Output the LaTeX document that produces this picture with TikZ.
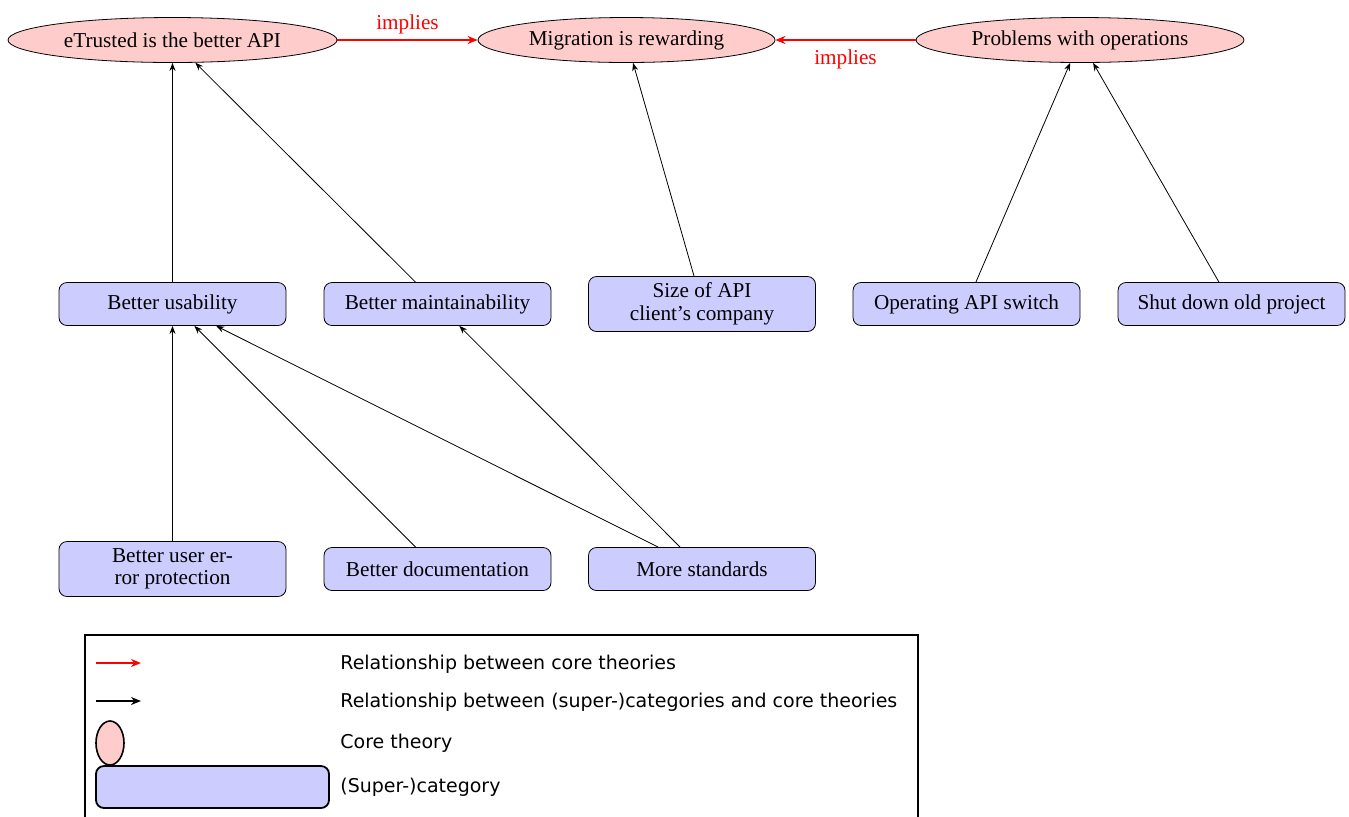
\documentclass[tikz,border=0pt]{standalone}
\usepackage{fontspec}
\setmainfont{Liberation Serif}
\newfontfamily\legendfont{DejaVu Sans}
\usetikzlibrary{shapes.geometric,arrows.meta}
\begin{document}
\begin{tikzpicture}[x=0.5pt,y=-0.5pt,
  font=\fontsize{10.6}{11.2}\selectfont,
  core/.style={ellipse,draw,fill=red!20,inner sep=0pt,minimum height=22.5pt},
  cat/.style={draw,fill=blue!20,rounded corners=4pt,minimum width=113.5pt,minimum height=21.5pt,align=center,inner sep=0pt},
  cattwo/.style={cat,minimum height=27.5pt},
  arr/.style={-{Stealth[length=4pt,width=3pt]},line width=0.4pt},
  rel/.style={-{Stealth[length=5pt,width=4pt]},red,line width=0.9pt},
  lbl/.style={text=red},
  legtext/.style={anchor=west,font=\legendfont\fontsize{9.5}{11}\selectfont,inner sep=0pt}
]
\path[use as bounding box,clip] (0,0) rectangle (1349,816);

% core theories
\node[core,minimum width=164.5pt] (E1) at (172.5,40) {eTrusted is the better API};
\node[core,minimum width=148.5pt] (E2) at (626.5,40) {Migration is rewarding};
\node[core,minimum width=164pt] (E3) at (1080,40) {Problems with operations};

% categories row 1
\node[cat] (R1) at (172.5,304) {Better usability};
\node[cat] (R2) at (437.5,304) {Better maintainability};
\node[cattwo] (R3) at (702,304) {Size of API\\client’s company};
\node[cat] (R4) at (966.5,304) {Operating API switch};
\node[cat] (R5) at (1231.5,304) {Shut down old project};

% categories row 2
\node[cattwo] (R6) at (172.5,569) {Better user er-\\ror protection};
\node[cat] (R7) at (437.5,569) {Better documentation};
\node[cat] (R8) at (702,569) {More standards};

% relations
\draw[rel] (E1) -- node[lbl,above,inner sep=2.5pt] (L1) {implies} (E2);
\draw[rel] (E3) -- node[lbl,below,inner sep=4.5pt] (L2) {implies} (E2);

\draw[arr] (R1) -- (E1);
\draw[arr] (R2) -- (E1);
\draw[arr] (R3) -- (E2);
\draw[arr] (R4) -- (E3);
\draw[arr] (R5) -- (E3);
\draw[arr] (R6) -- (R1);
\draw[arr] (R7) -- (R1);
\draw[arr] (R8) -- (R1);
\draw[arr] (R8) -- (R2);

% legend
\draw[line width=1pt] (85,635) rectangle (918,840);
\coordinate (a1) at (96,663);
\coordinate (b1) at (141,663);
\coordinate (a2) at (96,701);
\coordinate (b2) at (141,701);
\draw[rel] (a1) -- (b1);
\draw[-{Stealth[length=5pt,width=4pt]},line width=0.9pt] (a2) -- (b2);
\node[ellipse,draw,fill=red!20,line width=0.8pt,inner sep=0pt,minimum width=14pt,minimum height=22pt] (LE) at (110,743) {};
\node[draw,fill=blue!20,line width=0.9pt,rounded corners=4pt,minimum width=116.5pt,minimum height=21pt,inner sep=0pt] (LR) at (212.5,787) {};
\node[legtext] (T1) at (340,664) {Relationship between core theories};
\node[legtext] (T2) at (340,702) {Relationship between (super-)categories and core theories};
\node[legtext] (T3) at (340,743) {Core theory};
\node[legtext] (T4) at (340,787) {(Super-)category};
\end{tikzpicture}
\end{document}
